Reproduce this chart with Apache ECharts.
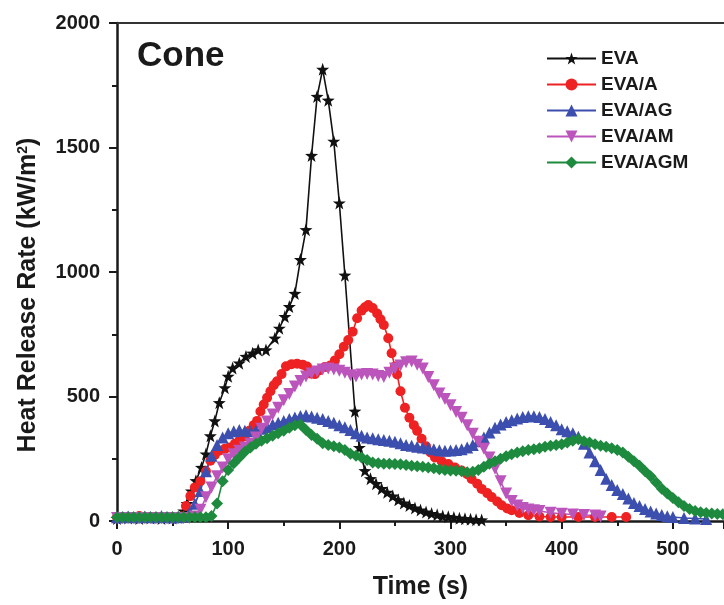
<!DOCTYPE html>
<html><head><meta charset="utf-8">
<script src="https://cdn.jsdelivr.net/npm/echarts@6/dist/echarts.min.js"></script>
<style>html,body{margin:0;padding:0;background:#fff}#c{width:724px;height:605px}</style>
</head><body><div id="c"></div>
<script>
// ---- data (time in s, HRR in kW/m2) ----
const seriesNames = ['EVA', 'EVA/A', 'EVA/AG', 'EVA/AM', 'EVA/AGM'];
const xTicks = [0, 100, 200, 300, 400, 500];
const yTicks = [0, 500, 1000, 1500, 2000];

const evaT = [0,10,20,30,40,50,55,60,63,67,71,76,80,84,88,92,97,100,104,110,116,122,127,134,142,146,151,155,160,165,170,175,180,185,190,195,200,205,214,218,223,228,233,238,243,248,253,258,263,268,273,278,283,288,293,298,303,308,313,318,323,328];
const evaV = [10,12,10,12,10,12,15,40,70,120,162,215,269,342,402,475,535,581,614,634,661,674,687,687,734,774,821,861,914,1050,1170,1468,1705,1814,1690,1525,1277,987,441,295,202,170,150,130,115,100,85,72,62,52,44,36,30,25,20,17,14,11,9,7,5,4];

const evaAT = [0,10,20,30,40,50,58,62,66,70,75,80,84,88,92,97,101,106,110,115,119,123,126,129,132,135,138,141,144,148,152,157,162,167,171,174,178,182,187,192,196,200,204,208,212,216,220,223,226,230,234,237,240,244,247,250,252,255,259,263,267,270,274,278,282,286,292,298,304,310,315,319,324,328,333,337,342,346,351,355,362,370,380,390,400,415,430,445,458];
const evaAV = [15,15,20,15,15,15,18,60,100,135,160,200,242,265,282,290,295,310,322,340,362,385,402,440,468,495,521,545,561,590,621,630,632,628,620,592,590,605,618,625,645,670,700,727,760,814,845,858,867,855,833,810,787,734,674,620,588,521,455,415,385,362,330,300,275,255,240,229,215,203,188,169,150,129,112,96,78,63,50,43,32,23,18,16,16,16,16,16,16];

const evaAGT = [0,5,10,15,20,25,30,35,40,45,50,55,60,65,70,75,80,85,90,95,100,105,110,115,120,125,130,135,140,145,150,155,160,165,170,175,180,185,190,195,200,205,210,215,220,225,230,235,240,245,250,255,260,265,270,275,280,285,290,295,300,305,310,315,320,325,330,335,340,345,350,355,360,365,370,375,380,385,390,395,400,405,410,415,420,425,430,435,440,445,450,455,460,465,470,475,480,485,490,495,500,510,520,530];
const evaAGV = [15,15,18,15,15,18,15,15,20,15,15,15,18,30,69,120,200,262,305,335,352,360,365,362,360,362,370,378,388,395,402,410,416,422,425,420,415,410,402,395,385,377,365,352,342,335,332,328,325,322,318,312,305,302,298,295,292,288,284,282,283,285,288,295,305,320,335,355,375,388,398,405,412,418,421,421,418,410,398,385,368,360,352,338,310,275,240,205,170,145,125,108,90,72,60,48,38,30,24,19,16,12,10,8];

const evaAMT = [0,5,10,15,20,25,30,35,40,45,50,55,60,65,70,75,80,85,90,95,100,105,110,115,120,125,130,135,140,145,150,155,160,165,170,175,180,185,190,195,200,205,210,215,220,225,230,235,240,245,250,255,260,265,270,275,280,285,290,295,300,305,310,315,320,325,330,335,340,345,350,355,360,365,370,375,380,390,400,410,420,430,435];
const evaAMV = [12,12,12,12,12,12,12,12,12,12,12,12,12,12,18,45,95,135,180,215,248,268,282,295,310,335,370,400,428,455,485,510,540,562,580,592,600,608,612,608,603,595,585,580,588,590,588,582,578,595,612,625,638,641,628,612,578,545,512,490,465,438,415,385,350,318,290,255,210,160,110,80,62,52,46,43,40,33,29,26,24,22,18];

const evaAGMT = [0,5,10,15,20,25,30,35,40,45,50,55,60,65,70,75,80,85,90,95,100,105,110,115,120,125,130,135,140,145,150,155,160,165,170,175,180,185,190,195,200,205,210,215,220,225,230,235,240,245,250,255,260,265,270,275,280,285,290,295,300,305,310,315,320,325,330,335,340,345,350,355,360,365,370,375,380,385,390,395,400,405,410,415,420,425,430,435,440,445,450,455,460,465,470,475,480,485,490,495,500,505,510,515,520,525,530,535,540,545];
const evaAGMV = [15,15,15,15,15,15,15,15,15,15,15,15,15,15,15,15,15,20,70,160,205,232,255,278,295,310,322,332,342,352,362,375,385,388,365,345,330,312,305,300,295,285,270,262,255,245,235,232,230,230,229,228,225,222,220,218,215,212,208,205,203,202,200,196,198,205,218,230,240,250,260,268,275,280,285,288,292,298,302,305,308,315,322,328,320,315,308,302,298,292,285,275,258,240,222,200,180,155,130,110,92,75,60,48,40,35,32,30,28,27];

const pairs = (t, v) => t.map((x, i) => [x, v[i]]);

const FONT = 'Liberation Sans, Arial, Helvetica, sans-serif';
const INK = '#1a1a1a';
const starPath = 'path://M0,-10 L2.35,-3.24 9.51,-3.09 3.8,1.24 5.88,8.09 0,4 -5.88,8.09 -3.8,1.24 -9.51,-3.09 -2.35,-3.24Z';

const styles = [
  {color: '#111111', symbol: starPath, size: 13, rotate: 0},
  {color: '#ee2222', symbol: 'circle', size: 10, rotate: 0},
  {color: '#3c4fae', symbol: 'triangle', size: 12, rotate: 0},
  {color: '#bb55bb', symbol: 'triangle', size: 12, rotate: 180},
  {color: '#1d8a3e', symbol: 'diamond', size: 12, rotate: 0}
];
const dataSets = [pairs(evaT, evaV), pairs(evaAT, evaAV), pairs(evaAGT, evaAGV), pairs(evaAMT, evaAMV), pairs(evaAGMT, evaAGMV)];

const chart = echarts.init(document.getElementById('c'), null, {renderer: 'canvas'});
chart.setOption({
  animation: false,
  backgroundColor: '#fff',
  title: {
    text: 'Cone', left: 137, top: 39, padding: 0,
    textStyle: {fontFamily: FONT, fontWeight: 'bold', fontSize: 35, color: INK}
  },
  legend: {
    data: seriesNames, orient: 'vertical', left: 546, top: 49, padding: 0,
    itemWidth: 49, itemHeight: 15, itemGap: 7,
    lineStyle: {width: 2},
    textStyle: {fontFamily: FONT, fontWeight: 'bold', fontSize: 19, lineHeight: 19, color: INK}
  },
  grid: {left: 117, right: 0, top: 23, bottom: 81},
  xAxis: [{
    type: 'value', min: 0, max: 546, interval: 100,
    name: 'Time (s)', nameLocation: 'middle', nameGap: 54,
    nameTextStyle: {fontFamily: FONT, fontWeight: 'bold', fontSize: 25, color: INK},
    axisLine: {lineStyle: {color: INK, width: 2.5}},
    axisTick: {length: 8, lineStyle: {width: 2, color: INK}},
    minorTick: {show: true, splitNumber: 2, length: 5, lineStyle: {width: 2, color: INK}},
    axisLabel: {margin: 18, showMaxLabel: false, fontFamily: FONT, fontWeight: 'bold', fontSize: 20, color: INK,
      formatter: v => xTicks.indexOf(v) >= 0 ? String(v) : ''},
    splitLine: {show: false}
  }, {
    type: 'value', min: 0, max: 546, position: 'top',
    axisLine: {show: true, onZero: false, lineStyle: {color: '#333', width: 2}},
    axisTick: {show: false}, axisLabel: {show: false}, splitLine: {show: false}
  }],
  yAxis: {
    type: 'value', min: 0, max: 2000, interval: 500,
    name: 'Heat Release Rate (kW/m{sup|2})', nameLocation: 'middle', nameGap: 76,
    nameTextStyle: {fontFamily: FONT, fontWeight: 'bold', fontSize: 25, color: INK, padding: [0, 46, 0, 0],
      rich: {sup: {fontFamily: FONT, fontWeight: 'bold', fontSize: 14, color: INK, verticalAlign: 'top'}}},
    axisLine: {show: true, lineStyle: {color: INK, width: 2.5}},
    axisTick: {show: true, length: 8, lineStyle: {width: 2, color: INK}},
    minorTick: {show: true, splitNumber: 2, length: 5, lineStyle: {width: 2, color: INK}},
    axisLabel: {margin: 17, fontFamily: FONT, fontWeight: 'bold', fontSize: 20, color: INK,
      formatter: v => yTicks.indexOf(v) >= 0 ? String(v) : ''},
    splitLine: {show: false}
  },
  series: seriesNames.map((n, i) => ({
    name: n, type: 'line', data: dataSets[i],
    symbol: styles[i].symbol, symbolSize: styles[i].size, symbolRotate: styles[i].rotate,
    showAllSymbol: true, showSymbol: true,
    lineStyle: {color: styles[i].color, width: 1.6},
    itemStyle: {color: styles[i].color},
    clip: true
  }))
});
</script></body></html>
